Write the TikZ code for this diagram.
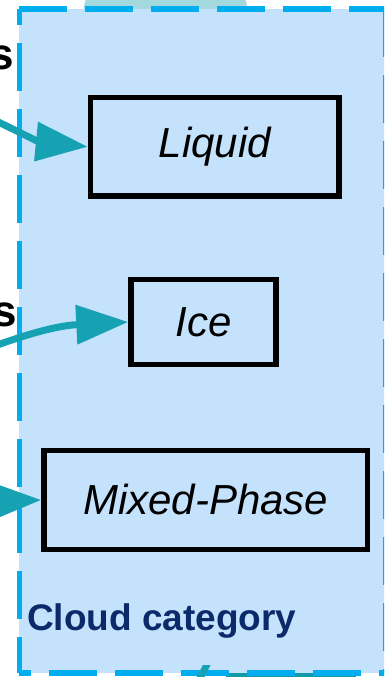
\documentclass[tikz,border=0pt]{standalone}
\usepackage{fontspec}
\setmainfont{Liberation Sans}
\usetikzlibrary{arrows.meta}

\definecolor{framefill}{HTML}{C4E2FC}
\definecolor{framedash}{HTML}{00AEEF}
\definecolor{flowteal}{HTML}{17A2B4}
\definecolor{paleteal}{HTML}{A3D8DC}
\definecolor{deepteal}{HTML}{0E9AA6}
\definecolor{catnavy}{HTML}{0B2A6A}

\tikzset{
  catbox/.style={draw=black, line width=5.5pt, rectangle, inner sep=0pt,
    font=\fontsize{42}{50}\selectfont\itshape},
  flow/.style={draw=flowteal, line width=7pt, -{Triangle[length=52pt,width=38pt]}},
  framedge/.style={draw=framedash, line width=5.5pt, dash pattern=on 48pt off 18pt},
  cutlabel/.style={font=\fontsize{44}{52}\selectfont\bfseries, inner sep=0pt, anchor=base east},
}

\begin{document}
\begin{tikzpicture}[x=1pt,y=-1pt]
\useasboundingbox (0,0) rectangle (384,677);
\clip (0,0) rectangle (384,677);

% shapes lying behind the group frame
\fill[paleteal, rounded corners=20pt] (84,-12) rectangle (247,40);
\draw[deepteal, line width=4pt] (226,675) -- (356,675);

% group frame: light fill with a dashed border, one side at a time
\fill[framefill] (19.3,9) rectangle (385.5,673);
\draw[framedge] (19.3,9) -- (385.5,9);
\draw[framedge, dash phase=32pt] (19.3,9) -- (19.3,673);
\draw[framedge, dash phase=36pt] (19.3,673) -- (385.5,673);
\draw[framedge] (385.5,9) -- (385.5,673);

% category boxes
\node[catbox, minimum width=248.5pt, minimum height=98.5pt] (liquid) at (214.75,146.75) {\raisebox{2pt}{Liquid}};
\node[catbox, minimum width=145pt, minimum height=85pt] (ice) at (203.5,322) {Ice};
\node[catbox, minimum width=323.5pt, minimum height=99pt] (mixed) at (205.75,500) {\raisebox{2pt}{Mixed-Phase}};

% group caption
\node[font=\fontsize{37}{44}\selectfont\bfseries, text=catnavy, inner sep=0pt, anchor=base west]
  (cat) at (27,630) {Cloud category};

% ends of the source labels on the left
\node[cutlabel] (lblA) at (14.5,70) {s};
\node[cutlabel] (lblB) at (17,326) {s};

% incoming connectors
\coordinate (srcA) at (-30,108);
\coordinate (srcB) at (-30,355);
\coordinate (srcC) at (-40,502);
\draw[flow] (srcA) .. controls (10,128) and (40,142) .. (liquid.west);
\draw[flow] (srcB) .. controls (10,340) and (50,326) .. (ice.west);
\draw[flow] (srcC) -- (mixed.west);

% outgoing connector stub at the bottom edge
\fill[flowteal] (203,665) -- (210.5,665) -- (204.5,677) -- (196.5,677) -- cycle;
\end{tikzpicture}
\end{document}
